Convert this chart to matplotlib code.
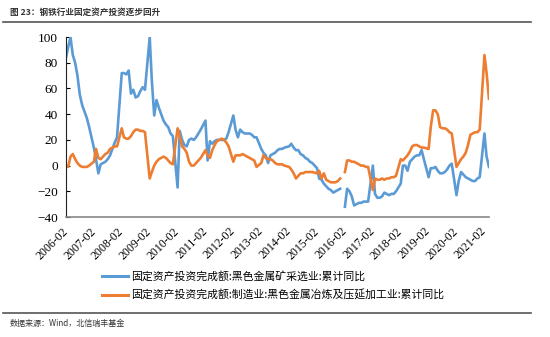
import matplotlib
matplotlib.use("Agg")
import matplotlib.pyplot as plt
from matplotlib.lines import Line2D
import pandas as pd
import numpy as np

# ---- data (Feb..Dec each year; 2021: Feb..Apr) ----
years = list(range(2006, 2022))
tick_labels = [f"{y}-02" for y in range(2006, 2022)]

mining = [  # 固定资产投资完成额:黑色金属矿采选业:累计同比
    84, 92, 100, 86, 80, 70, 55, 47, 42, 37, 30,          # 2006
    14, 5, -6, 1, 2, 3, 5, 8, 13, 18, 22,                 # 2007
    72, 72, 71, 74, 56, 59, 53, 54, 58, 61, 59,           # 2008
    100, 66, 39, 51, 45, 40, 35, 32, 30, 25, 23,          # 2009
    -17, 27, 20, 16, 15, 20, 21, 20, 22, 25, 28,          # 2010
    35, 4, 19, 17, 19, 20, 20, 20, 20, 21, 26,            # 2011
    39, 28, 22, 28, 26, 25, 25, 25, 24, 22, 22,           # 2012
    13, 10, 8, 2, 8, 9, 10, 12, 13, 13, 14,               # 2013
    15, 17, 14, 12, 12, 9, 8, 6, 5, 3, 2,                 # 2014
    -2, -10, -11, -14, -16, -18, -19, -21, -20, -19, -18, # 2015
    -32, -18, -20, -24, -31, -30, -29, -29, -28, -28, -28,# 2016
    0, -22, -25, -25, -24, -21, -22, -23, -22, -22, -20,  # 2017
    -14, 0, 0, -4, 3, 5, 7, 8, 8, 12, 5,                  # 2018
    -9, -2, -2, -1, -4, -6, -6, -5, -3, 0, 1.5,           # 2019
    -23, -12, -5, -7, -9, -10, -11, -12, -12, -10, -9,    # 2020
    25, 7, -1,                                            # 2021
]
smelting = [  # 固定资产投资完成额:制造业:黑色金属冶炼及压延加工业:累计同比
    0, -1, 7, 9, 5, 2, 0, -1, -1, -1, 0,                  # 2006
    3, 13, 6, 5, 7, 9, 10, 13, 14, 15, 15,                # 2007
    29, 22, 21, 21, 23, 26, 28, 28, 27, 27, 26,           # 2008
    -10, -5, 0, 3, 5, 6, 7, 6, 4, 2, 1,                   # 2009
    29, 23, 15, 13, 10, 3, 0, 0, 2, 4, 6,                 # 2010
    12, 8, 6, 12, 16, 19, 20, 21, 20, 18, 15,             # 2011
    3, 8, 8, 8, 9, 8, 7, 6, 5, 4, -1,                     # 2012
    2, 8, 6, 5, 5, 4, 2, 1, 1, 1, 0,                      # 2013
    -1, -3, -6, -10, -8, -6, -6, -5, -5, -5, -5,          # 2014
    -6, -4, -10, -6, -11, -12, -13, -13, -13, -12, -10,   # 2015
    -5, 4, 4, 3, 3, 2, 1, 0, 0, -1, -1,                   # 2016
    -19, -10, -11, -11, -10, -11, -10, -10, -9, -9, -8,   # 2017
    5, 4, 6, 8, 11, 15, 16, 16, 15, 14, 14,               # 2018
    13, 30, 43, 43, 40, 30, 29, 29, 28, 26, 25,           # 2019
    -1, 2, 5, 7, 10, 16, 24, 25, 26, 26, 28,              # 2020
    86, 72, 52,                                           # 2021
]
labels = ["固定资产投资完成额:黑色金属矿采选业:累计同比",
          "固定资产投资完成额:制造业:黑色金属冶炼及压延加工业:累计同比"]

# dates: Feb..Dec per year, 2021 Feb..Apr; 2016-01 is a blank (line break)
dates = []
for y in years:
    last = 4 if y == 2021 else 12
    for m in range(2, last + 1):
        dates.append(pd.Timestamp(y, m, 1))
s1 = pd.Series(mining, index=dates, dtype=float)
s2 = pd.Series(smelting, index=dates, dtype=float)
gap = pd.Timestamp(2016, 1, 1)
s1.loc[gap] = np.nan
s2.loc[gap] = np.nan
s1 = s1.sort_index()
s2 = s2.sort_index()

serif = ['Liberation Serif', 'DejaVu Serif']
cjk = ['Noto Sans CJK SC', 'DejaVu Sans']
plt.rcParams['font.family'] = serif

fig = plt.figure(figsize=(5.5, 3.37), dpi=100)
ax = fig.add_axes([0.12, 0.356, 0.769, 0.534])

blue = "#5B9BD5"
orange = "#ED7D31"
ax.plot(s1.index, s1.values, color=blue, lw=1.9, label=labels[0])
ax.plot(s2.index, s2.values, color=orange, lw=1.9, label=labels[1])

ax.set_ylim(-40, 100)
ax.set_yticks(range(-40, 101, 20))
ax.set_xlim(pd.Timestamp(2006, 2, 1), pd.Timestamp(2021, 4, 1))
ticks = [pd.Timestamp(y, 2, 1) for y in range(2006, 2022)]
ax.set_xticks(ticks)
ax.set_xticklabels(tick_labels, rotation=45, ha="right", va="center",
                   rotation_mode="anchor", family=serif)
for t in ax.get_yticklabels():
    t.set_family(serif)
ax.tick_params(axis="x", length=0, labelsize=8.5, pad=9)
ax.tick_params(axis="y", direction="in", length=3, labelsize=9.5, pad=6)
for sp in ["top", "right"]:
    ax.spines[sp].set_visible(False)
ax.spines["left"].set_color("#222222")
ax.spines["bottom"].set_color("#888888")
ax.spines["bottom"].set_linewidth(1.2)

leg = fig.legend(loc="center left", bbox_to_anchor=(0.168, 0.152), frameon=False,
                 prop={"family": cjk, "size": 7.8},
                 handlelength=2.4, labelspacing=0.8, handletextpad=0.25)
for l in leg.get_lines():
    l.set_linewidth(2.2)

fig.text(0.018, 0.963, "图 23：钢铁行业固定资产投资逐步回升", fontsize=6.2,
         family=cjk, color="#333333", va="center", fontweight="bold")
fig.add_artist(Line2D([0.005, 0.965], [0.935, 0.935], color="#555555", lw=1.2,
                      transform=fig.transFigure))
fig.add_artist(Line2D([0.005, 0.965], [0.071, 0.071], color="#555555", lw=1.2,
                      transform=fig.transFigure))
fig.text(0.018, 0.041, "数据来源：Wind，北信瑞丰基金", fontsize=5.8,
         family=cjk, color="#333333", va="center")

fig.savefig("out.png", dpi=100)
